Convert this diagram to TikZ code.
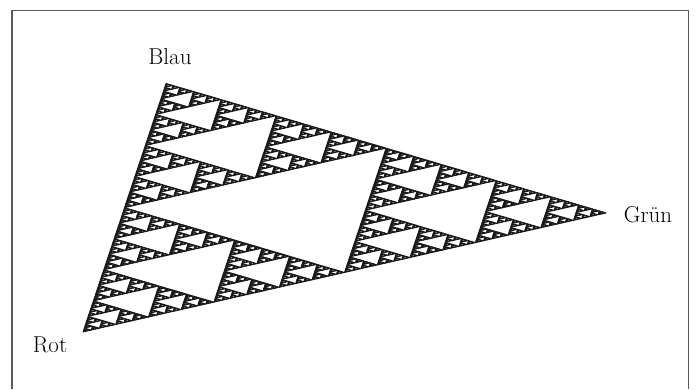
\documentclass[tikz,border=0pt]{standalone}
\usepackage{tikz}
\makeatletter
\def\sier#1#2#3#4#5#6#7{%
  \ifnum#1=0 \expandafter\sierleaf\else\expandafter\siersplit\fi{#1}{#2}{#3}{#4}{#5}{#6}{#7}}
\def\sierleaf#1#2#3#4#5#6#7{%
  \path[fracpart] (#2,#3) -- (#4,#5) -- (#6,#7) -- cycle;}
\def\siersplit#1#2#3#4#5#6#7{%
  \begingroup
  \edef\sn{\the\numexpr#1-1\relax}%
  \edef\abx{\the\numexpr(#2+#4)/2\relax}\edef\aby{\the\numexpr(#3+#5)/2\relax}%
  \edef\bcx{\the\numexpr(#4+#6)/2\relax}\edef\bcy{\the\numexpr(#5+#7)/2\relax}%
  \edef\cax{\the\numexpr(#6+#2)/2\relax}\edef\cay{\the\numexpr(#7+#3)/2\relax}%
  \edef\sx{\noexpand\sier{\sn}{#2}{#3}{\abx}{\aby}{\cax}{\cay}%
           \noexpand\sier{\sn}{\abx}{\aby}{#4}{#5}{\bcx}{\bcy}%
           \noexpand\sier{\sn}{\cax}{\cay}{\bcx}{\bcy}{#6}{#7}}%
  \expandafter\endgroup\sx}
\makeatother
\tikzset{
  fracpart/.style={fill=black!90,draw=black!90,line width=0.9pt,line join=round},
  lbl/.style={font=\fontsize{23}{28}\selectfont,inner sep=0pt},
  framebar/.style={draw=black!65,line width=1.4pt}
}
\begin{document}
\begin{tikzpicture}[x=1pt,y=1pt]
\useasboundingbox (0,0) rectangle (696,389);
% frame (open at bottom)
\coordinate (fbl) at (12,0);
\coordinate (ftl) at (12,378.5);
\coordinate (ftr) at (688.5,378.5);
\coordinate (fbr) at (688.5,0);
\draw[framebar] (fbl) -- (ftl) -- (ftr) -- (fbr);
% vertices
\coordinate (blau) at (166,305.5);
\coordinate (gruen) at (606,176);
\coordinate (rot) at (83,57);
\begin{scope}[x=0.1pt,y=0.1pt]
\sier{7}{830}{570}{1660}{3055}{6060}{1760}
\end{scope}
\node[lbl] (lblau) at (170,332) {Blau};
\node[lbl] (lgruen) at (648,174) {Grün};
\node[lbl] (lrot) at (50,44) {Rot};
\end{tikzpicture}
\end{document}
